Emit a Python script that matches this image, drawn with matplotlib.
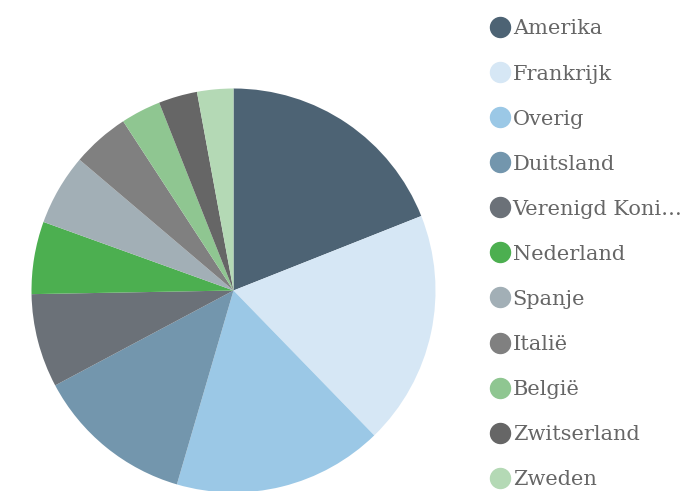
import matplotlib.pyplot as plt
from matplotlib.lines import Line2D

# Aandeel per land (in %)
landen = ['Amerika', 'Frankrijk', 'Overig', 'Duitsland', 'Verenigd Koni…', 'Nederland',
          'Spanje', 'Italië', 'België', 'Zwitserland', 'Zweden']
aandelen = [19.0, 18.75, 16.8, 12.7, 7.5, 5.8, 5.7, 4.6, 3.2, 3.1, 2.9]
kleuren = ['#4d6374', '#d6e7f5', '#9bc8e6', '#7396ad', '#6b7178', '#4caf50',
           '#a2afb6', '#808080', '#8fc691', '#666666', '#b4d9b5']

fig = plt.figure(figsize=(6.95, 4.91), dpi=100)
W, H = 695, 491
cx, cy, r = 233.5, 290.5, 202
ax = fig.add_axes([(cx - r) / W, (H - cy - r) / H, 2 * r / W, 2 * r / H])
ax.pie(aandelen, colors=kleuren, startangle=90, counterclock=False,
       radius=1, wedgeprops=dict(linewidth=0))
ax.set_xlim(-1, 1)
ax.set_ylim(-1, 1)
ax.set_aspect('equal')
ax.axis('off')

# Legenda met ronde markers
handles = [Line2D([0], [0], marker='o', linestyle='', markersize=14.4,
                  markerfacecolor=c, markeredgecolor=c) for c in kleuren]
leg = fig.legend(handles, landen, loc='upper left', bbox_to_anchor=(493.5 / W, 1 - 19.5 / H),
                 frameon=False, handlelength=0.6, handletextpad=0.32,
                 labelspacing=1.25, borderpad=0, borderaxespad=0,
                 prop={'family': 'DejaVu Serif', 'size': 15})
for t in leg.get_texts():
    t.set_color('#666666')

fig.savefig('out.png', dpi=100)
